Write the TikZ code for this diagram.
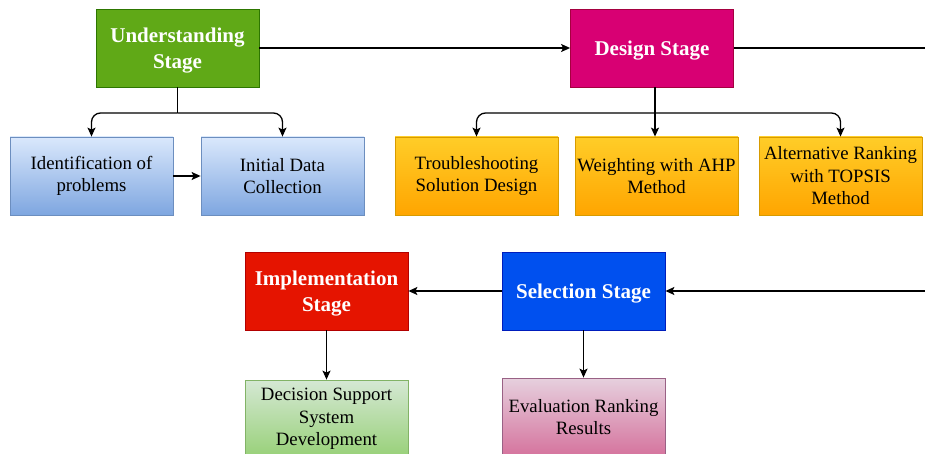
\documentclass[tikz,border=0pt]{standalone}
\usepackage{fontspec}
\setmainfont{Liberation Serif}
\usetikzlibrary{arrows.meta,calc}
\definecolor{ugreen}{HTML}{60A917}\definecolor{ugreenb}{HTML}{2D7600}
\definecolor{dpink}{HTML}{D80073}\definecolor{dpinkb}{HTML}{A50040}
\definecolor{ired}{HTML}{E51400}\definecolor{iredb}{HTML}{B20000}
\definecolor{sblue}{HTML}{0050EF}\definecolor{sblueb}{HTML}{001DBC}
\definecolor{bluetop}{HTML}{DAE8FC}\definecolor{bluebot}{HTML}{7EA6E0}\definecolor{blueb}{HTML}{6C8EBF}
\definecolor{ortop}{HTML}{FFCD28}\definecolor{orbot}{HTML}{FFA500}\definecolor{orb}{HTML}{D79B00}
\definecolor{grtop}{HTML}{D5E8D4}\definecolor{grbot}{HTML}{97D077}\definecolor{grb}{HTML}{82B366}
\definecolor{pktop}{HTML}{E6D0DE}\definecolor{pkbot}{HTML}{D5739D}\definecolor{pkb}{HTML}{996185}
\tikzset{
  box/.style={rectangle, minimum width=163pt, minimum height=78pt, inner sep=2pt, align=center, line width=0.8pt},
  stagebox/.style={box, text=white, text depth=0pt, font=\fontsize{21}{26}\selectfont\bfseries},
  subbox/.style={box, text=black, font=\fontsize{18.8}{22.5}\selectfont},
  conn/.style={line width=1.3pt, -{Stealth[length=9pt,width=8pt,inset=2pt]}},
  plain/.style={line width=1.3pt},
}
\begin{document}
\begin{tikzpicture}[x=1pt,y=-1pt]
\useasboundingbox (0,0) rectangle (925,454);
\clip (0,0) rectangle (925,454);
% stage nodes
\node[stagebox, fill=ugreen, draw=ugreenb] (under) at (177.5,48) {Understanding\\Stage};
\node[stagebox, fill=dpink, draw=dpinkb] (design) at (652,48) {Design Stage};
\node[stagebox, fill=ired, draw=iredb] (impl) at (326.5,291) {Implementation\\Stage};
\node[stagebox, fill=sblue, draw=sblueb] (sel) at (583.5,291) {Selection Stage};
% sub nodes
\node[subbox, top color=bluetop, bottom color=bluebot, draw=blueb] (ident) at (91.5,176) {Identification of\\problems};
\node[subbox, top color=bluetop, bottom color=bluebot, draw=blueb] (init) at (282.5,176) {Initial Data\\Collection};
\node[subbox, top color=ortop, bottom color=orbot, draw=orb] (trouble) at (476.5,176) {Troubleshooting\\Solution Design};
\node[subbox, top color=ortop, bottom color=orbot, draw=orb] (weight) at (656.5,176) {Weighting with AHP\\Method};
\node[subbox, top color=ortop, bottom color=orbot, draw=orb] (alt) at (840.5,176) {Alternative Ranking\\with TOPSIS\\Method};
\node[subbox, top color=grtop, bottom color=grbot, draw=grb] (dss) at (326.5,419) {Decision Support\\System\\Development};
\node[subbox, top color=pktop, bottom color=pkbot, draw=pkb] (eval) at (583.5,417) {Evaluation Ranking\\Results};
% free ends
\coordinate (rightout) at (925,48);
\coordinate (rightin) at (925,291);
\coordinate (ubar) at (177.5,113);
\coordinate (dbar) at (655,113);
% connectors
\draw[conn] (under) -- (design);
\draw[plain] (design.east) -- (rightout);
\draw[plain] (under.south) -- (ubar);
\draw[conn, rounded corners=9pt] (ubar) -| (ident.north);
\draw[conn, rounded corners=9pt] (ubar) -| (init.north);
\draw[conn] (ident) -- (init);
\draw[conn] (design.south -| dbar) -- (dbar |- weight.north);
\draw[conn, rounded corners=9pt] (dbar) -| (trouble.north);
\draw[conn, rounded corners=9pt] (dbar) -| (alt.north);
\draw[conn] (rightin) -- (sel.east);
\draw[conn] (sel) -- (impl);
\draw[conn] (impl) -- (dss);
\draw[conn] (sel) -- (eval);
\end{tikzpicture}
\end{document}
